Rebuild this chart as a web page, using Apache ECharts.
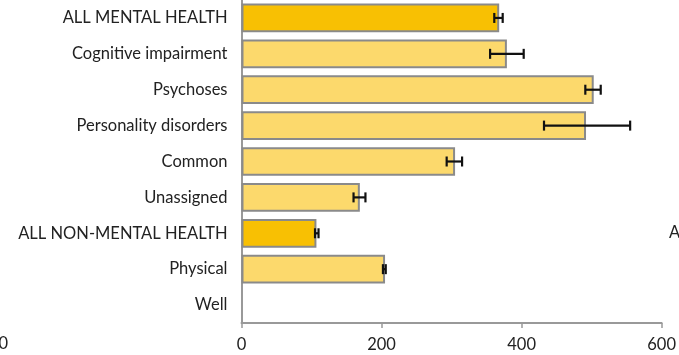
<!DOCTYPE html>
<html>
<head>
<meta charset="utf-8">
<style>
  html, body { margin: 0; padding: 0; background: #fff; }
  #chart { width: 679px; height: 355px; }
</style>
<script src="https://cdn.jsdelivr.net/npm/echarts@6/dist/echarts.min.js"></script>
</head>
<body>
<div id="chart"></div>
<script>
// Categories, top to bottom
const categories = [
  'ALL MENTAL HEALTH',
  'Cognitive impairment',
  'Psychoses',
  'Personality disorders',
  'Common',
  'Unassigned',
  'ALL NON-MENTAL HEALTH',
  'Physical',
  'Well'
];
// Mean values
const values = [368, 379, 503, 492, 305, 169, 107, 205, 0];
// Confidence interval bounds
const lower = [361, 355, 491, 432, 293, 160, 105, 202, null];
const upper = [373, 403, 513, 555, 315, 177, 110, 206, null];
// Summary rows get the darker fill
const isTotal = [true, false, false, false, false, false, true, false, false];
const xTicks = [0, 200, 400, 600];

const DARK = '#F8C003';
const LIGHT = '#FCD96C';
const FONT = 'Lato';
const FS = 16.5;

const chart = echarts.init(document.getElementById('chart'));

const barData = values.map((v, i) => ({
  value: v,
  itemStyle: {
    color: isTotal[i] ? DARK : LIGHT,
    borderWidth: v === 0 ? 0 : 2
  }
}));

const errData = categories.map((c, i) => [i, lower[i], upper[i]]).filter(d => d[1] !== null);

chart.setOption({
  animation: false,
  grid: { left: 241.5, right: 14.7, top: 0, bottom: 32, containLabel: false },
  xAxis: {
    type: 'value',
    min: xTicks[0],
    max: xTicks[xTicks.length - 1],
    interval: 200,
    axisLine: { show: true, lineStyle: { color: '#999', width: 2 } },
    axisTick: { show: true, length: 5, lineStyle: { color: '#999', width: 1.5 } },
    splitLine: { show: false },
    axisLabel: { color: '#222', fontFamily: FONT, fontSize: FS, margin: 13 }
  },
  yAxis: {
    type: 'category',
    data: categories,
    inverse: true,
    axisLine: { show: true, lineStyle: { color: '#999', width: 2 } },
    axisTick: { show: false },
    axisLabel: { color: '#222', fontFamily: FONT, fontSize: FS, margin: 14 }
  },
  series: [
    {
      type: 'bar',
      data: barData,
      barCategoryGap: '20%',
      itemStyle: { borderColor: '#8a8a8a', borderWidth: 2 }
    },
    {
      type: 'custom',
      data: errData,
      z: 10,
      renderItem: function (params, api) {
        const y = api.coord([0, api.value(0)])[1];
        const x1 = api.coord([api.value(1), 0])[0];
        const x2 = api.coord([api.value(2), 0])[0];
        const h = 5;
        const style = { stroke: '#111', lineWidth: 2.2 };
        return {
          type: 'group',
          children: [
            { type: 'line', shape: { x1: x1, y1: y, x2: x2, y2: y }, style: style },
            { type: 'line', shape: { x1: x1, y1: y - h, x2: x1, y2: y + h }, style: style },
            { type: 'line', shape: { x1: x2, y1: y - h, x2: x2, y2: y + h }, style: style }
          ]
        };
      }
    }
  ],
  graphic: [
    {
      type: 'text', right: 671, top: 335,
      style: { text: '600', font: FS + 'px ' + FONT, fill: '#222' }
    },
    {
      type: 'text', left: 669, top: 224,
      style: { text: 'ALL NON-MENTAL HEALTH', font: FS + 'px ' + FONT, fill: '#222' }
    }
  ]
});
</script>
</body>
</html>
